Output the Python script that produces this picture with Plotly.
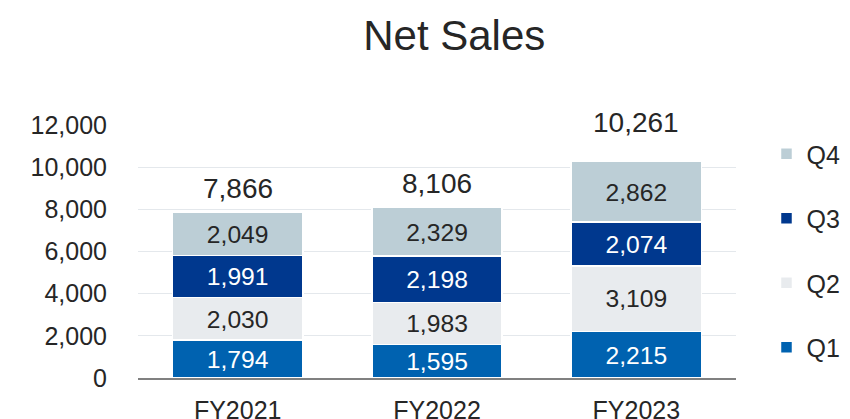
import plotly.graph_objects as go

categories = ["FY2021", "FY2022", "FY2023"]
q1 = [1794, 1595, 2215]
q2 = [2030, 1983, 3109]
q3 = [1991, 2198, 2074]
q4 = [2049, 2329, 2862]
totals = [7866, 8106, 10261]

series = [
    ("Q1", q1, "#0062B0", "white"),
    ("Q2", q2, "#E8EBEE", "#262626"),
    ("Q3", q3, "#00388E", "white"),
    ("Q4", q4, "#BCCED6", "#262626"),
]

FONT = "Liberation Sans, Arial, sans-serif"
fig = go.Figure()
for i, (name, vals, color, tcolor) in enumerate(series):
    fig.add_trace(go.Bar(
        x=categories, y=vals, name=name, legendgroup=name, legendrank=len(series) - i,
        marker=dict(color=color, line=dict(color="white", width=1.5)),
        text=[f"{v:,}" for v in vals], texttemplate="%{text}",
        textposition="inside", insidetextanchor="middle",
        textfont=dict(color=tcolor, size=25, family=FONT),
        hoverinfo="skip",
    ))

# label offsets (pixels above the bar top) as in the original layout
label_shifts = [6, 6, 22]
for cat, tot, shift in zip(categories, totals, label_shifts):
    fig.add_annotation(x=cat, y=tot, text=f"{tot:,}", showarrow=False,
                       yanchor="bottom", yshift=shift,
                       font=dict(size=28, color="#262626", family=FONT))

fig.update_layout(
    width=850, height=419,
    barmode="stack", bargap=0.346,
    paper_bgcolor="white", plot_bgcolor="white",
    margin=dict(l=130, r=115, t=117, b=49),
    title=dict(text="Net Sales", x=0.525, xanchor="center", y=0.936, yanchor="middle",
               font=dict(size=42, color="#262626", family=FONT)),
    font=dict(family=FONT, color="#262626"),
    uniformtext=dict(minsize=8, mode="show"),
    legend=dict(traceorder="grouped", tracegroupgap=29,
                x=1.051, xanchor="left", y=0.976, yanchor="top",
                font=dict(size=25, family=FONT, color="#262626"),
                itemwidth=30, bgcolor="rgba(0,0,0,0)"),
    showlegend=True,
)
fig.update_yaxes(range=[0, 12000], dtick=2000, tickformat=",", automargin=False,
                 showgrid=True, gridcolor="#E4E8EC", gridwidth=1,
                 zeroline=False, showline=False,
                 tickfont=dict(size=25, family=FONT, color="#262626"), ticklabelstandoff=30)
fig.update_xaxes(showline=True, linecolor="#808080", linewidth=2, automargin=False,
                 tickfont=dict(size=25, family=FONT, color="#262626"), ticks="", ticklabelstandoff=9)

fig.write_html("out.html")
